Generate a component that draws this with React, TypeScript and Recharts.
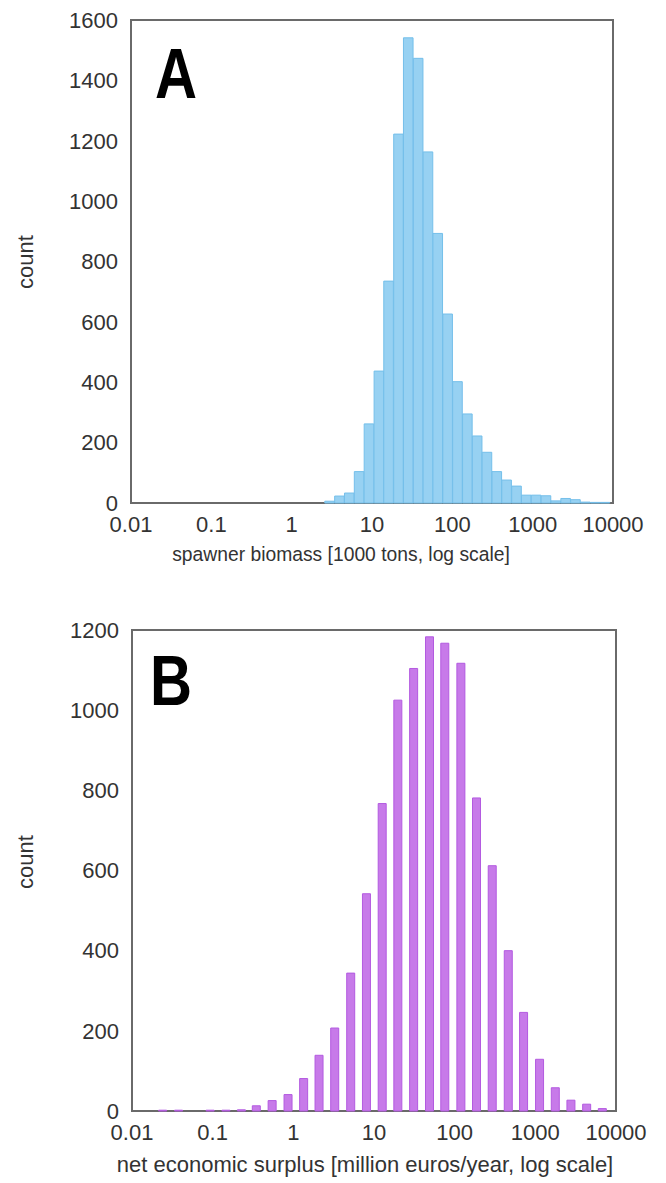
import React from "react";
import { BarChart, Bar, XAxis, YAxis, ReferenceArea } from "recharts";

// Panel A: spawner biomass histogram (bin centers in 1000 tons, log-spaced)
const biomassBins = [
  2.97, 3.94, 5.22, 6.92, 9.18, 12.2, 16.1, 21.4, 28.3, 37.6, 49.8, 65.9, 87.5, 116, 154,
  204, 270, 358, 474, 630, 834, 1104, 1466, 1941, 2576, 3412, 4519, 5998, 7943,
];
const biomassCounts = [
  6, 23, 33, 104, 262, 437, 735, 1222, 1541, 1473, 1163, 893, 626, 402, 295,
  222, 168, 104, 76, 56, 26, 26, 24, 7, 15, 11, 3, 2, 2,
];

// Panel B: net economic surplus histogram (bin centers in million euros/year)
const surplusBins = [
  0.0243, 0.0383, 0.06, 0.0942, 0.148, 0.23, 0.352, 0.553, 0.871, 1.36, 2.11, 3.3, 5.21, 8.17,
  12.8, 20.0, 31.4, 49.4, 76.4, 121, 189, 296, 468, 724, 1143, 1791, 2799, 4385, 6855,
];
const surplusCounts = [
  2, 2, 0, 2, 2, 3, 13, 26, 41, 81, 139, 207, 344, 542,
  767, 1025, 1104, 1183, 1167, 1117, 781, 612, 400, 246, 129, 58, 27, 17, 6,
];

const xTicks = [0.01, 0.1, 1, 10, 100, 1000, 10000];
const yTicksA = [0, 200, 400, 600, 800, 1000, 1200, 1400, 1600];
const yTicksB = [0, 200, 400, 600, 800, 1000, 1200];

const dataA = biomassBins.map((x, i) => ({ x, count: biomassCounts[i] }));
const dataB = surplusBins.map((x, i) => ({ x, count: surplusCounts[i] }));

const FONT = "'Liberation Sans', Arial, Helvetica, sans-serif";
const TICK = { fill: "#333", fontSize: 22, fontFamily: FONT };
const FRAME = "#6a6a6a";

function Hist({
  data,
  yTicks,
  yMax,
  width,
  height,
  margin,
  yWidth,
  fill,
  stroke,
  barSize,
}: any) {
  return (
    <BarChart width={width} height={height} data={data} margin={margin} barCategoryGap={0}>
      <XAxis
        dataKey="x"
        type="number"
        scale="log"
        domain={[0.01, 10000]}
        allowDataOverflow
        ticks={xTicks}
        interval={0}
        height={30}
        tickFormatter={(v: number) => String(v)}
        tick={TICK}
        tickLine={false}
        axisLine={false}
        tickSize={6}
        tickMargin={7}
      />
      <YAxis
        type="number"
        domain={[0, yMax]}
        ticks={yTicks}
        interval={0}
        width={yWidth}
        tick={TICK}
        tickLine={false}
        axisLine={false}
        tickSize={6}
        tickMargin={7}
      />
      <Bar
        dataKey="count"
        fill={fill}
        stroke={stroke}
        strokeWidth={1}
        barSize={barSize}
        isAnimationActive={false}
      />
      <ReferenceArea
        x1={0.01}
        x2={10000}
        y1={0}
        y2={yMax}
        fill="none"
        fillOpacity={0}
        stroke={FRAME}
        strokeWidth={2}
        strokeOpacity={1}
        ifOverflow="visible"
      />
    </BarChart>
  );
}

export default function App() {
  return (
    <div
      style={{
        position: "absolute",
        left: 0,
        top: 0,
        width: 666,
        height: 1183,
        background: "#fff",
        overflow: "hidden",
      }}
    >
      <div style={{ position: "absolute", left: 0, top: 0 }}>
        <Hist
          data={dataA}
          yTicks={yTicksA}
          yMax={1600}
          width={666}
          height={590}
          margin={{ top: 20, right: 53, bottom: 57, left: 0 }}
          yWidth={131}
          fill="#97d1f2"
          stroke="#74bfea"
          barSize={9.6}
        />
      </div>
      <div style={{ position: "absolute", left: 0, top: 590 }}>
        <Hist
          data={dataB}
          yTicks={yTicksB}
          yMax={1200}
          width={666}
          height={593}
          margin={{ top: 40, right: 50, bottom: 42, left: 0 }}
          yWidth={132}
          fill="#c77ae9"
          stroke="#b35ae0"
          barSize={8}
        />
      </div>
      <svg
        width={666}
        height={1183}
        style={{ position: "absolute", left: 0, top: 0, pointerEvents: "none" }}
      >
        <text
          x={155 / 0.82}
          y={98}
          transform="scale(0.82,1)"
          fontFamily={FONT}
          fontWeight="bold"
          fontSize={71}
          fill="#000"
        >
          A
        </text>
        <text
          x={150 / 0.82}
          y={705}
          transform="scale(0.82,1)"
          fontFamily={FONT}
          fontWeight="bold"
          fontSize={71}
          fill="#000"
        >
          B
        </text>
        <text x={341} y={561} textAnchor="middle" fontFamily={FONT} fontSize={19.3} fill="#333">
          spawner biomass [1000 tons, log scale]
        </text>
        <text x={365} y={1172} textAnchor="middle" fontFamily={FONT} fontSize={22} fill="#333">
          net economic surplus [million euros/year, log scale]
        </text>
        <text
          x={33}
          y={262}
          transform="rotate(-90 33 262)"
          textAnchor="middle"
          fontFamily={FONT}
          fontSize={22}
          fill="#333"
        >
          count
        </text>
        <text
          x={33}
          y={862}
          transform="rotate(-90 33 862)"
          textAnchor="middle"
          fontFamily={FONT}
          fontSize={22}
          fill="#333"
        >
          count
        </text>
      </svg>
    </div>
  );
}
